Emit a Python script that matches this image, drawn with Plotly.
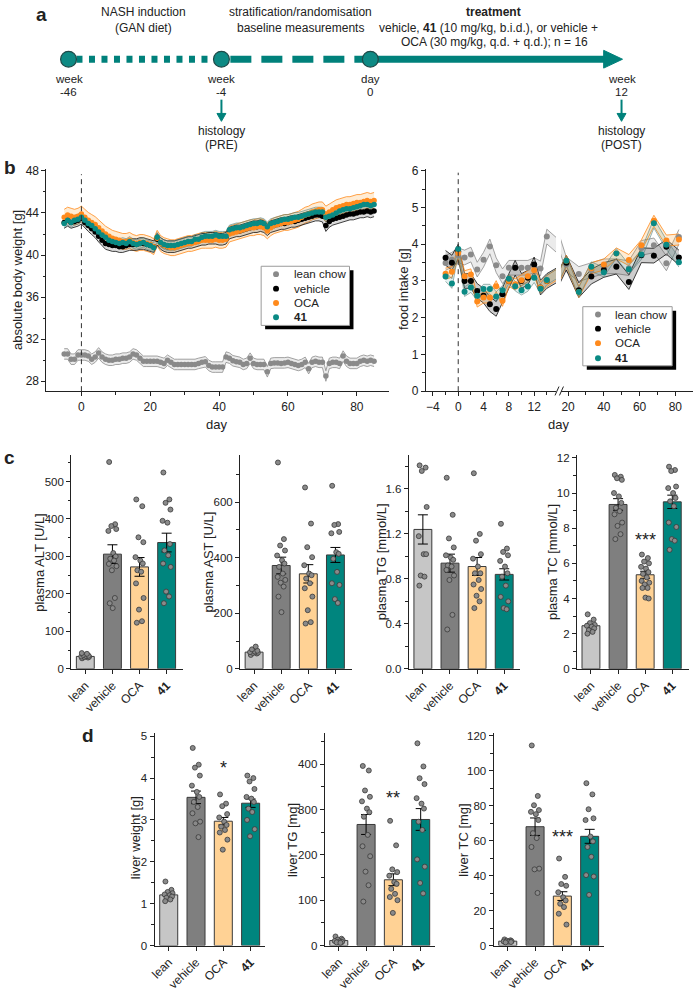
import plotly.graph_objects as go

W, H = 695, 992
FONT = "Arial, 'Liberation Sans', Helvetica, sans-serif"
INK = "#222222"
TEAL = "#0a8a84"
ORANGE = "#ff8a1c"
GREY = "#8a8a8a"

# ---------------- panel b: body weight (g), days -5..85 ----------------
bw_days = list(range(-5, 86))
bw_lean = [30.6, 30.6, 30.1, 30.1, 30.5, 30.5, 30.5, 30.4, 30.1, 30.3,
           30.7, 30.3, 30.1, 30.0, 30.0, 30.1, 30.1, 30.2, 30.2, 30.3,
           30.6, 30.5, 30.2, 29.9, 29.9, 29.9, 29.9, 29.9, 29.8, 29.7,
           30.0, 29.8, 29.6, 29.6, 29.6, 29.6, 29.6, 29.6, 29.6, 29.7,
           29.8, 29.85, 29.5, 29.35, 29.35, 29.35, 29.35, 30.3, 30.2, 29.95,
           29.85, 29.8, 29.6, 29.7, 30.2, 29.7, 29.6, 29.6, 29.6, 28.9,
           29.7, 29.75, 29.75, 29.7, 29.75, 29.8, 29.7, 29.6, 29.5, 29.6,
           29.8, 29.2, 29.8, 29.9, 29.8, 29.8, 28.5, 29.7, 29.8, 29.8,
           29.7, 30.4, 29.9, 29.7, 29.7, 29.7, 29.9, 30.0, 29.9, 30.0,
           29.9]
bw_vehicle = [43.1, 43.3, 43.1, 43.2, 43.3, 43.5, 43.1, 42.8, 42.5, 42.2,
              41.8, 41.4, 41.1, 41.0, 40.9, 40.9, 40.8, 40.8, 40.9, 41.0,
              41.0, 41.0, 41.1, 41.1, 41.0, 40.9, 40.8, 41.5, 41.1, 40.9,
              40.8, 40.8, 40.8, 40.9, 41.0, 41.1, 41.2, 41.2, 41.3, 41.4,
              41.5, 41.5, 41.6, 41.6, 41.6, 41.5, 41.5, 41.6, 42.1, 42.2,
              42.3, 42.3, 42.4, 42.5, 42.6, 42.7, 42.7, 42.8, 42.7, 42.4,
              42.7, 42.8, 42.9, 43.0, 43.0, 43.1, 43.2, 43.2, 43.3, 43.4,
              43.5, 43.6, 43.7, 43.8, 43.8, 43.7, 42.8, 43.2, 43.4, 43.5,
              43.6, 43.7, 43.8, 43.9, 43.9, 44.0, 44.1, 44.1, 44.2, 44.1,
              44.2]
bw_oca = [43.6, 43.8, 43.7, 43.6, 43.7, 43.9, 43.6, 43.3, 43.1, 42.9,
          42.6, 42.3, 42.0, 41.8, 41.6, 41.5, 41.4, 41.3, 41.3, 41.4,
          41.2, 41.1, 41.2, 41.2, 41.1, 41.0, 40.8, 41.6, 41.1, 40.9,
          40.8, 40.7, 40.7, 40.8, 40.9, 41.0, 41.1, 41.1, 41.2, 41.3,
          41.4, 41.4, 41.4, 41.4, 41.5, 41.4, 41.4, 41.5, 42.0, 42.1,
          42.2, 42.3, 42.4, 42.5, 42.6, 42.6, 42.7, 42.7, 42.6, 42.3,
          42.6, 42.8, 42.9, 43.0, 43.1, 43.1, 43.2, 43.3, 43.4, 43.6,
          43.8, 43.9, 44.1, 44.2, 44.3, 44.3, 43.9, 44.1, 44.3, 44.5,
          44.6, 44.7, 44.8, 44.8, 44.9, 45.0, 45.0, 45.1, 45.2, 45.1,
          45.2]
bw_41 = [43.0, 43.3, 43.1, 43.3, 43.4, 43.6, 43.3, 43.0, 42.8, 42.5,
         42.2, 41.9, 41.7, 41.4, 41.3, 41.2, 41.1, 41.2, 41.1, 41.3,
         41.1, 41.0, 41.1, 41.2, 41.0, 40.9, 40.7, 41.7, 41.2, 41.0,
         40.9, 40.9, 40.9, 41.0, 41.1, 41.2, 41.3, 41.3, 41.5, 41.5,
         41.7, 41.8, 41.8, 41.8, 41.9, 41.8, 41.8, 41.8, 42.4, 42.5,
         42.6, 42.6, 42.7, 42.8, 42.9, 43.0, 43.0, 43.1, 43.0, 42.7,
         43.0, 43.1, 43.2, 43.3, 43.4, 43.4, 43.5, 43.6, 43.6, 43.7,
         43.8, 43.9, 44.0, 44.1, 44.1, 44.1, 43.6, 43.7, 43.8, 44.0,
         44.2, 44.3, 44.4, 44.4, 44.5, 44.6, 44.7, 44.8, 44.8, 44.7,
         44.8]
bw_sem = {"lean": 0.5, "vehicle": 0.55, "OCA": 0.75, "41": 0.45}

# ---------------- panel b: food intake (g) ----------------
fi_days = [-2, -1, 0, 1, 2, 3, 4, 5, 6, 7, 8, 9, 10, 11, 12, 13, 14,
           19, 26, 33, 40, 47, 54, 61, 68, 75, 82]
fi_lean = [3.49, 3.58, 3.70, 3.64, 3.72, 3.31, 3.58, 3.94, 3.43, 3.13, 3.36, 3.36, 3.36, 3.36, 3.43, 3.34, 4.21,
           3.45, 3.19, 3.30, 3.40, 3.40, 3.35, 3.90, 3.97, 3.48, 4.20]
fi_vehicle = [3.63, 3.50, 3.80, 3.00, 3.00, 2.73, 2.60, 2.37, 2.24, 2.64, 3.00, 3.36, 3.00, 3.09, 3.45, 2.82, 3.00,
              3.50, 2.75, 3.12, 3.30, 3.39, 2.97, 3.70, 3.69, 3.93, 3.64]
fi_oca = [3.20, 3.25, 3.76, 3.13, 3.18, 2.44, 2.55, 2.55, 2.86, 2.46, 3.00, 2.91, 3.02, 3.13, 3.29, 2.82, 3.00,
          3.55, 2.70, 3.35, 3.45, 3.75, 3.57, 3.97, 4.64, 4.10, 4.13]
fi_41 = [3.12, 2.93, 3.87, 2.71, 2.82, 2.60, 2.78, 2.78, 2.58, 2.75, 3.06, 2.86, 2.75, 2.85, 3.09, 2.79, 3.03,
         3.55, 2.70, 3.39, 3.24, 3.75, 3.32, 3.72, 4.57, 3.99, 3.51]
fi_sem = {"lean": 0.2, "vehicle": 0.2, "OCA": 0.15, "41": 0.13}

# ---------------- panels c / d: bars ----------------
bar_labels = ["lean", "vehicle", "OCA", "<b>41</b>"]

alt_mean = [33, 306, 272, 337]
alt_sem = [3, 25, 25, 25]
alt_pts = [[28, 30, 31, 32, 33, 34, 35, 37, 40, 42],
           [552, 386, 381, 373, 368, 309, 300, 294, 289, 280, 274, 263, 189, 175, 162],
           [452, 434, 351, 338, 298, 289, 281, 263, 259, 228, 189, 158, 127, 123],
           [524, 452, 443, 425, 395, 390, 333, 316, 303, 281, 272, 206, 193, 175]]

ast_mean = [60, 372, 342, 410]
ast_sem = [4, 30, 33, 27]
ast_pts = [[50, 55, 57, 58, 60, 62, 65, 70, 80],
           [743, 467, 444, 426, 408, 391, 379, 367, 343, 331, 320, 310, 296, 260, 204],
           [653, 523, 438, 402, 373, 343, 337, 325, 308, 290, 260, 211, 168, 163],
           [659, 521, 518, 493, 488, 420, 414, 396, 349, 308, 302, 251, 237]]

ptg_mean = [1.24, 0.94, 0.91, 0.84]
ptg_sem = [0.13, 0.08, 0.08, 0.05]
ptg_pts = [[1.81, 1.79, 1.76, 1.44, 1.18, 1.02, 1.02, 0.83, 0.82, 0.74],
           [1.70, 1.37, 1.16, 1.08, 1.01, 0.99, 0.97, 0.92, 0.91, 0.88, 0.83, 0.79, 0.48, 0.35],
           [1.74, 1.20, 1.14, 1.02, 0.98, 0.91, 0.85, 0.85, 0.79, 0.75, 0.71, 0.65, 0.60, 0.54],
           [1.29, 1.07, 1.04, 1.01, 0.96, 0.91, 0.85, 0.82, 0.74, 0.64, 0.60, 0.54, 0.53]]

ptc_mean = [2.45, 9.35, 5.35, 9.5]
ptc_sem = [0.1, 0.33, 0.2, 0.38]
ptc_pts = [[3.1, 2.8, 2.6, 2.5, 2.45, 2.4, 2.3, 2.2, 2.1, 2.0],
           [11.03, 10.93, 10.84, 10.75, 10.0, 9.81, 9.44, 9.16, 8.97, 8.79, 8.32, 8.13, 7.66, 7.38],
           [6.5, 6.3, 6.1, 6.0, 5.8, 5.7, 5.5, 5.4, 5.2, 5.0, 4.9, 4.8, 4.6, 4.6, 4.05, 4.0],
           [11.5, 11.31, 11.25, 10.37, 10.28, 10.0, 9.72, 9.53, 9.25, 8.32, 8.07, 7.38, 7.29, 6.77]]

lw_mean = [1.21, 3.54, 2.97, 3.40]
lw_sem = [0.04, 0.15, 0.09, 0.1]
lw_pts = [[1.53, 1.33, 1.28, 1.25, 1.22, 1.2, 1.17, 1.14, 1.1, 1.06],
          [4.72, 4.32, 4.25, 4.06, 3.82, 3.67, 3.55, 3.43, 3.31, 3.16, 2.96, 2.92, 2.59],
          [3.61, 3.39, 3.33, 3.14, 3.06, 2.96, 2.88, 2.84, 2.76, 2.70, 2.53, 2.29],
          [4.06, 4.0, 3.92, 3.74, 3.55, 3.51, 3.43, 3.27, 3.19, 3.0, 2.78, 2.61]]

ltg_mean = [11, 267, 145, 278]
ltg_sem = [1.5, 22, 13, 24]
ltg_pts = [[20, 15, 13, 12, 10, 9, 8, 7, 6],
           [396, 386, 342, 328, 318, 302, 294, 284, 244, 219, 197, 163, 133, 97],
           [275, 221, 168, 162, 154, 140, 136, 125, 114, 107, 100, 72],
           [446, 395, 369, 356, 325, 313, 302, 273, 255, 190, 174, 138, 115]]

ltc_mean = [2.5, 68, 28.3, 62.5]
ltc_sem = [0.3, 5, 2.5, 4]
ltc_pts = [[3.5, 3.0, 2.8, 2.5, 2.3, 2.2, 2.0, 1.8],
           [114.5, 85.6, 80.3, 77.5, 76.5, 75.2, 71.8, 64.3, 61.5, 56.4, 44.0, 43.6, 30.1],
           [49.8, 39.3, 35.2, 34.2, 30.5, 27.6, 25.8, 23.9, 22.0, 18.2, 12.0],
           [92.9, 86.5, 78.0, 72.8, 71.8, 62.4, 59.6, 56.4, 50.8, 40.3, 39.5, 29.0]]

BAR_COLORS = ["#c6c6c6", "#7f7f7f", "#ffd295", "#00857e"]
JITTER = [-0.12, 0.10, -0.04, 0.14, -0.15, 0.03, 0.12, -0.08, 0.06, -0.13,
          0.15, -0.02, 0.09, -0.10, 0.01, 0.13]


def X(p):
    return p / W


def Y(p):
    return 1 - p / H


fig = go.Figure()
layout_axes = {}


def axis(name, dom, rng, anchor, tickvals, minor=None, ticktext=None, **kw):
    d = dict(domain=dom, range=rng, anchor=anchor, showline=True, linecolor=INK,
             linewidth=1, ticks="outside", ticklen=4, tickwidth=1, tickcolor=INK,
             showgrid=False, zeroline=False, fixedrange=True, tickvals=tickvals,
             tickfont=dict(family=FONT, size=12, color=INK))
    if ticktext is not None:
        d["ticktext"] = ticktext
    if minor is not None:
        d["minor"] = dict(tickvals=minor, ticklen=2.5, ticks="outside", tickcolor=INK, tickwidth=1)
    d.update(kw)
    layout_axes[name] = d


# ---------- body weight axes ----------
axis("xaxis", [X(41.7), X(387)], [-10.17, 89.4], "y", [0, 20, 40, 60, 80], [10, 30, 50, 70])
axis("yaxis", [Y(391.7), Y(166.7)], [27.06, 48.15], "x", [28, 32, 36, 40, 44, 48], [30, 34, 38, 42, 46])
# ---------- food intake axes (broken x) ----------
axis("xaxis2", [X(424), X(555)], [-5.1, 15.45], "y2", [-4, 0, 4, 8, 12], [-2, 2, 6, 10, 14])
axis("xaxis3", [X(560), X(693)], [16, 89.9], "y2", [20, 40, 60, 80], [30, 50, 70])
axis("yaxis2", [Y(391.7), Y(166.7)], [0, 6.04], "x2", [0, 1, 2, 3, 4, 5, 6], [0.5, 1.5, 2.5, 3.5, 4.5, 5.5])


def band(xs, ys, sem, edge, fill, xa, ya, ew=0.8):
    lo = [v - sem for v in ys]
    hi = [v + sem for v in ys]
    fig.add_trace(go.Scatter(x=xs, y=lo, mode="lines", line=dict(color=edge, width=ew),
                             xaxis=xa, yaxis=ya, showlegend=False, hoverinfo="skip"))
    fig.add_trace(go.Scatter(x=xs, y=hi, mode="lines", line=dict(color=edge, width=ew),
                             fill="tonexty", fillcolor=fill, xaxis=xa, yaxis=ya,
                             showlegend=False, hoverinfo="skip"))


def dots(xs, ys, color, size, xa, ya):
    fig.add_trace(go.Scatter(x=xs, y=ys, mode="markers", marker=dict(color=color, size=size),
                             xaxis=xa, yaxis=ya, showlegend=False))


# body weight
band(bw_days, bw_oca, bw_sem["OCA"], ORANGE, "rgba(255,170,60,0.22)", "x", "y")
band(bw_days, bw_vehicle, bw_sem["vehicle"], "#111111", "rgba(90,90,90,0.22)", "x", "y")
band(bw_days, bw_41, bw_sem["41"], "#5c7f7c", "rgba(0,120,110,0.12)", "x", "y", 0.6)
band(bw_days, bw_lean, bw_sem["lean"], "#8c8c8c", "rgba(215,215,215,0.5)", "x", "y")
dots(bw_days, bw_lean, GREY, 5.5, "x", "y")
dots(bw_days, bw_vehicle, "#000000", 5.5, "x", "y")
dots(bw_days, bw_oca, ORANGE, 5.5, "x", "y")
dots(bw_days, bw_41, TEAL, 5.5, "x", "y")

# food intake (same series drawn on both halves of the broken axis)
for xa in ("x2", "x3"):
    band(fi_days, fi_lean, fi_sem["lean"], "#8c8c8c", "rgba(215,215,215,0.5)", xa, "y2")
    band(fi_days, fi_vehicle, fi_sem["vehicle"], "#111111", "rgba(90,90,90,0.3)", xa, "y2")
    band(fi_days, fi_oca, fi_sem["OCA"], ORANGE, "rgba(255,170,60,0.22)", xa, "y2")
    band(fi_days, fi_41, fi_sem["41"], "#5c7f7c", "rgba(0,120,110,0.1)", xa, "y2", 0.6)
    dots(fi_days, fi_lean, GREY, 6, xa, "y2")
    dots(fi_days, fi_vehicle, "#000000", 6, xa, "y2")
    dots(fi_days, fi_oca, ORANGE, 6, xa, "y2")
    dots(fi_days, fi_41, TEAL, 6, xa, "y2")

# ---------- bar panels ----------
bar_panels = [
    (4, (66.7, 179.2), (456.7, 673.3), [-0.52, 3.6], [0, 570], [0, 100, 200, 300, 400, 500],
     [50, 150, 250, 350, 450, 550], None, alt_mean, alt_sem, alt_pts),
    (5, (236.7, 349.2), (456.7, 673.3), [-0.52, 3.6], [0, 769], [0, 200, 400, 600],
     [100, 300, 500, 700], None, ast_mean, ast_sem, ast_pts),
    (6, (406.7, 519.2), (456.7, 673.3), [-0.52, 3.6], [0, 1.90], [0, 0.4, 0.8, 1.2, 1.6],
     [0.2, 0.6, 1.0, 1.4, 1.8], ["0.0", "0.4", "0.8", "1.2", "1.6"], ptg_mean, ptg_sem, ptg_pts),
    (7, (576, 688.5), (456.7, 673.3), [-0.52, 3.6], [0, 12.15], [0, 2, 4, 6, 8, 10, 12],
     [1, 3, 5, 7, 9, 11], None, ptc_mean, ptc_sem, ptc_pts),
    (8, (150.6, 261.7), (738.3, 954), [-0.52, 3.52], [0, 5.08], [0, 1, 2, 3, 4, 5],
     [0.5, 1.5, 2.5, 3.5, 4.5], None, lw_mean, lw_sem, lw_pts),
    (9, (321.9, 433), (738.3, 954), [-0.52, 3.52], [0, 469], [0, 100, 200, 300, 400],
     [50, 150, 250, 350, 450], None, ltg_mean, ltg_sem, ltg_pts),
    (10, (492.1, 603.2), (738.3, 954), [-0.52, 3.52], [0, 121.7], [0, 20, 40, 60, 80, 100, 120],
     [10, 30, 50, 70, 90, 110], None, ltc_mean, ltc_sem, ltc_pts),
]

for (n, xd, yd, xr, yr, yt, ym, ytt, mean, sem, pts) in bar_panels:
    xa, ya = f"x{n}", f"y{n}"
    axis(f"xaxis{n}", [X(xd[0]), X(xd[1])], xr, ya, [0, 1, 2, 3], None, bar_labels,
         tickangle=-45, tickfont=dict(family=FONT, size=12, color=INK))
    axis(f"yaxis{n}", [Y(yd[1]), Y(yd[0])], yr, xa, yt, ym, ytt,
         tickfont=dict(family=FONT, size=11.5, color=INK))
    fig.add_trace(go.Bar(x=[0, 1, 2, 3], y=mean, width=0.66,
                         marker=dict(color=BAR_COLORS, line=dict(color="#3a3a3a", width=1)),
                         error_y=dict(type="data", array=sem, color="#000000", thickness=1, width=5),
                         xaxis=xa, yaxis=ya, showlegend=False))
    for gi, grp in enumerate(pts):
        xs = [gi + JITTER[k % len(JITTER)] for k in range(len(grp))]
        fig.add_trace(go.Scatter(x=xs, y=grp, mode="markers",
                                 marker=dict(color="#8a8a8a", size=5, line=dict(color="#3a3a3a", width=0.8)),
                                 xaxis=xa, yaxis=ya, showlegend=False, cliponaxis=False))

# ---------- annotations ----------
ann = []


def txt(x, y, s, size=13, angle=0, xanchor="center", yanchor="middle", color=INK, **kw):
    ann.append(dict(x=X(x), y=Y(y), xref="paper", yref="paper", text=s, showarrow=False,
                    font=dict(family=FONT, size=size, color=color), textangle=angle,
                    xanchor=xanchor, yanchor=yanchor, **kw))


# panel letters
txt(37, 10, "<b>a</b>", 19)
txt(5, 165, "<b>b</b>", 19)
txt(5, 459, "<b>c</b>", 19)
txt(84, 741, "<b>d</b>", 19)

# panel a texts
txt(139, 7, "NASH induction", 12)
txt(139, 23, "(GAN diet)", 12)
txt(298, 7, "stratification/randomisation", 12)
txt(298, 23, "baseline measurements", 12)
txt(492, 7, "<b>treatment</b>", 12)
txt(487, 23, "vehicle, <b>41</b> (10 mg/kg, b.i.d.), or vehicle +", 12)
txt(493, 38, "OCA (30 mg/kg, q.d. + q.d.); n = 16", 12)
for xx, a, b in [(64, "week", "-46"), (218, "week", "-4"), (368, "day", "0"), (621, "week", "12")]:
    txt(xx, 75, a, 11.5)
    txt(xx, 88, b, 11.5)
txt(218, 128, "histology", 12)
txt(218, 142, "(PRE)", 12)
txt(621, 128, "histology", 12)
txt(621, 142, "(POST)", 12)

# axis titles
txt(12, 279, "absolute body weight [g]", 13, -90)
txt(402, 288, "food intake [g]", 13, -90)
txt(213, 425, "day", 13)
txt(558, 425, "day", 13)
txt(34, 565, "plasma ALT [U/L]", 13, -90)
txt(204, 565, "plasma AST [U/L]", 13, -90)
txt(379, 565, "plasma TG [mmol/L]", 13, -90)
txt(551, 565, "plasma TC [mmol/L]", 13, -90)
txt(131, 845, "liver weight [g]", 13, -90)
txt(289, 847, "liver TG [mg]", 13, -90)
txt(461, 847, "liver TC [mg]", 13, -90)

# significance stars (data coordinates)
for xa, ya, yv, s in [("x7", "y7", 7.3, "***"), ("x8", "y8", 4.25, "*"),
                      ("x9", "y9", 325, "**"), ("x10", "y10", 62, "***")]:
    ann.append(dict(x=2, y=yv, xref=xa, yref=ya, text=s, showarrow=False,
                    font=dict(family=FONT, size=18, color=INK), yanchor="middle"))

# legends
shapes = []
legend_specs = [
    ((258, 265, 347, 325), 273, 289, [273, 287.7, 302.3, 316.7]),
    ((582, 306, 672, 366), 597.3, 612.5, [314, 328.3, 343, 358.3]),
]
leg_items = [("lean chow", GREY), ("vehicle", "#000000"), ("OCA", ORANGE), ("<b>41</b>", TEAL)]
for (bx0, by0, bx1, by1), dx, tx, rows in legend_specs:
    shapes.append(dict(type="rect", xref="paper", yref="paper", x0=X(bx0 + 4), x1=X(bx1 + 4),
                       y0=Y(by1 + 4), y1=Y(by0 + 4), fillcolor="#000000", line=dict(width=0)))
    shapes.append(dict(type="rect", xref="paper", yref="paper", x0=X(bx0), x1=X(bx1),
                       y0=Y(by1), y1=Y(by0), fillcolor="#ffffff", line=dict(color="#9a9a9a", width=1)))
    for (lab, col), ry in zip(leg_items, rows):
        shapes.append(dict(type="circle", xref="paper", yref="paper", x0=X(dx - 3), x1=X(dx + 3),
                           y0=Y(ry + 3), y1=Y(ry - 3), fillcolor=col, line=dict(width=0)))
        txt(tx, ry, lab, 11.5, xanchor="left")

# dashed day-0 lines
shapes.append(dict(type="line", xref="x", yref="y domain", x0=0, x1=0, y0=0, y1=0.978,
                   line=dict(color="#333333", width=1, dash="5px,4px")))
shapes.append(dict(type="line", xref="x2", yref="y2 domain", x0=0, x1=0, y0=0, y1=0.985,
                   line=dict(color="#333333", width=1, dash="5px,4px")))
# axis break marks
for bx in (554, 558.5):
    shapes.append(dict(type="line", xref="paper", yref="paper", x0=X(bx), x1=X(bx + 4),
                       y0=Y(396), y1=Y(387), line=dict(color=INK, width=1)))

# panel a timeline
TL = "#00817b"
TY = 55
shapes.append(dict(type="line", xref="paper", yref="paper", x0=X(72), x1=X(211), y0=Y(TY), y1=Y(TY),
                   line=dict(color=TL, width=7, dash="6px,6.5px")))
shapes.append(dict(type="line", xref="paper", yref="paper", x0=X(227), x1=X(362), y0=Y(TY), y1=Y(TY),
                   line=dict(color=TL, width=7, dash="21px,10px")))
shapes.append(dict(type="line", xref="paper", yref="paper", x0=X(368), x1=X(605), y0=Y(TY), y1=Y(TY),
                   line=dict(color=TL, width=7)))
shapes.append(dict(type="path", xref="paper", yref="paper",
                   path=f"M {X(603)} {Y(TY - 9)} L {X(622)} {Y(TY)} L {X(603)} {Y(TY + 9)} Z",
                   fillcolor=TL, line=dict(color=TL, width=1)))
for cx in (64, 218, 368):
    shapes.append(dict(type="circle", xref="paper", yref="paper", x0=X(cx - 8), x1=X(cx + 8),
                       y0=Y(TY + 8), y1=Y(TY - 8), fillcolor="#0e8a84", line=dict(color="#1e4a48", width=1.2)))
for ax_ in (218, 621):
    shapes.append(dict(type="line", xref="paper", yref="paper", x0=X(ax_), x1=X(ax_), y0=Y(96), y1=Y(112),
                       line=dict(color=TL, width=2)))
    shapes.append(dict(type="path", xref="paper", yref="paper",
                       path=f"M {X(ax_ - 4.5)} {Y(110)} L {X(ax_ + 4.5)} {Y(110)} L {X(ax_)} {Y(118)} Z",
                       fillcolor=TL, line=dict(color=TL, width=1)))

fig.update_layout(width=W, height=H, margin=dict(l=0, r=0, t=0, b=0),
                  paper_bgcolor="white", plot_bgcolor="white", showlegend=False,
                  font=dict(family=FONT, color=INK), barmode="overlay",
                  annotations=ann, shapes=shapes, **layout_axes)

fig.write_html("out.html", config={"displayModeBar": False},
               post_script="document.body.style.margin='0';")
